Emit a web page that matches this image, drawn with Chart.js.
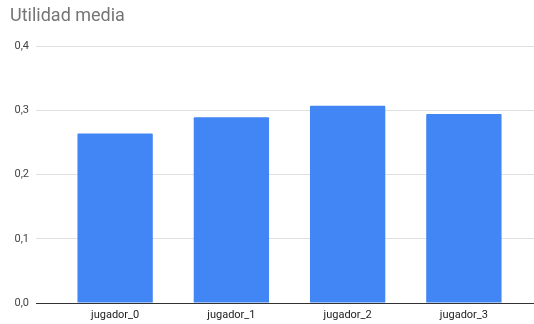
<!DOCTYPE html>
<html>
<head>
<meta charset="utf-8">
<script src="https://cdn.jsdelivr.net/npm/chart.js@4"></script>
<style>
  html, body { margin: 0; padding: 0; background: #fff; }
  #wrap { width: 534px; height: 324px; }
</style>
</head>
<body>
<div id="wrap"><canvas id="grafico"></canvas></div>
<script>
var jugadores = ['jugador_0', 'jugador_1', 'jugador_2', 'jugador_3'];
var utilidadMedia = [0.264, 0.289, 0.307, 0.294];
var ticksY = [0, 0.1, 0.2, 0.3, 0.4];

Chart.defaults.font.family = 'Roboto, Arial, sans-serif';

// etiquetas con coma decimal
function formatoComa(v) {
  return v.toFixed(1).replace('.', ',');
}

// línea del cero más oscura que el resto de la grilla
function colorGrilla(ctx) {
  return ctx.tick && ctx.tick.value === 0 ? '#333333' : '#e0e0e0';
}

const config = {
  type: 'bar',
  data: {
    labels: jugadores,
    datasets: [{
      label: 'Utilidad media',
      data: utilidadMedia,
      backgroundColor: '#4285f4',
      borderRadius: 1,
      borderSkipped: 'bottom',
      categoryPercentage: 1,
      barPercentage: 0.648
    }]
  },
  options: {
    responsive: true,
    maintainAspectRatio: false,
    animation: false,
    layout: { padding: { left: 10, right: 0, top: 0, bottom: 3 } },
    plugins: {
      legend: { display: false },
      tooltip: { enabled: false },
      title: {
        display: true,
        text: 'Utilidad media',
        align: 'start',
        color: '#757575',
        font: { size: 18, weight: 'normal' },
        padding: { top: 6, bottom: 18.4 }
      }
    },
    scales: {
      x: {
        afterFit: function (axis) { axis.height = 18; },
        grid: { display: false, drawTicks: false },
        border: { display: false },
        ticks: { color: '#222222', font: { size: 11 }, padding: 6 }
      },
      y: {
        min: 0,
        max: 0.4,
        afterBuildTicks: function (axis) {
          axis.ticks = ticksY.map(function (v) { return { value: v }; });
        },
        afterFit: function (axis) { axis.width = 47; },
        grid: { color: colorGrilla, tickLength: 21, lineWidth: 1 },
        border: { display: false },
        ticks: {
          color: '#444444',
          font: { size: 11 },
          padding: 7,
          callback: function (v) { return formatoComa(v); }
        }
      },
      yDer: {
        position: 'right',
        min: 0,
        max: 0.4,
        afterBuildTicks: function (axis) {
          axis.ticks = ticksY.map(function (v) { return { value: v }; });
        },
        afterFit: function (axis) { axis.width = 12; },
        grid: { color: colorGrilla, drawOnChartArea: false, tickLength: 12 },
        border: { display: false },
        ticks: { display: false }
      }
    }
  }
};

var grafico = new Chart(document.getElementById('grafico'), config);
</script>
</body>
</html>
